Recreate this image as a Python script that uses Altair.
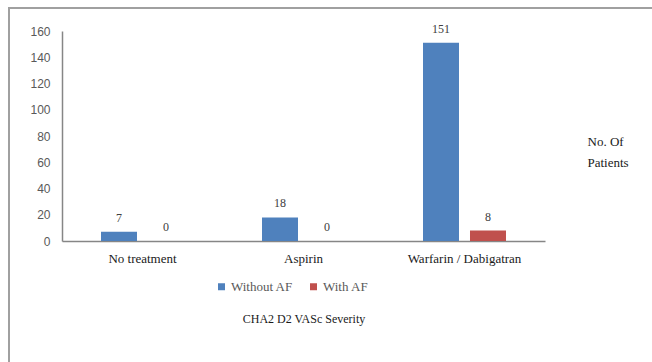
import altair as alt
import pandas as pd

# Treatment groups and patient counts per AF status
treatments = ["No treatment", "Aspirin", "Warfarin / Dabigatran"]
groups = ["Without AF", "With AF"]
without_af = [7, 18, 151]
with_af = [0, 0, 8]
y_ticks = [0, 20, 40, 60, 80, 100, 120, 140, 160]

rows = []
for t, a, b in zip(treatments, without_af, with_af):
    rows.append({"treatment": t, "group": groups[0], "patients": a})
    rows.append({"treatment": t, "group": groups[1], "patients": b})
df = pd.DataFrame(rows)

W, H = 483, 210
SERIF = "'Times New Roman', 'Liberation Serif', serif"
SANS = "'Liberation Sans', Arial, sans-serif"

x_enc = alt.X(
    "treatment:N",
    sort=treatments,
    scale=alt.Scale(paddingInner=0, paddingOuter=0),
    axis=alt.Axis(
        title="CHA2 D2 VASc Severity",
        titleFont=SERIF,
        titleFontSize=12,
        titleFontWeight="normal",
        titleColor="#1a1a1a",
        titleY=77,
        titleBaseline="middle",
        labelAngle=0,
        labelFont=SERIF,
        labelFontSize=13,
        labelColor="#1a1a1a",
        labelPadding=11,
        ticks=False,
        domainColor="#868686",
        domainWidth=1.5,
    ),
)
y_enc = alt.Y(
    "patients:Q",
    scale=alt.Scale(domain=[0, 160], nice=False),
    axis=alt.Axis(
        values=y_ticks,
        tickCount=9,
        labelOverlap=False,
        labelBound=False,
        title=["No. Of", "Patients"],
        titleAngle=0,
        titleAlign="left",
        titleBaseline="alphabetic",
        titleX=525,
        titleY=114,
        titleLineHeight=21,
        titleFont=SERIF,
        titleFontSize=13,
        titleFontWeight="normal",
        titleColor="#1a1a1a",
        labelFont=SANS,
        labelFontSize=12,
        labelColor="#595959",
        labelPadding=12,
        ticks=False,
        grid=False,
        domainColor="#868686",
        domainWidth=1.5,
    ),
)
offset_enc = alt.XOffset(
    "group:N",
    sort=groups,
    scale=alt.Scale(paddingInner=0.234, paddingOuter=0.83),
)

base = alt.Chart(df).encode(x=x_enc, xOffset=offset_enc, y=y_enc)

bars = base.mark_bar().encode(
    color=alt.Color(
        "group:N",
        sort=groups,
        scale=alt.Scale(domain=groups, range=["#4F81BD", "#C0504D"]),
        legend=alt.Legend(
            title=None,
            orient="none",
            direction="horizontal",
            legendX=153,
            legendY=249,
            padding=0,
            symbolType="square",
            symbolSize=49,
            symbolStrokeWidth=0,
            labelFont=SERIF,
            labelFontSize=13,
            labelColor="#595959",
            labelOffset=3,
            columnPadding=14,
        ),
    ),
)

labels = base.mark_text(
    font=SERIF, fontSize=12, color="#404040", baseline="middle", dy=-14
).encode(text="patients:Q")

# Outer frame around the figure
frame = alt.Chart(pd.DataFrame({"f": [0]})).mark_rect(
    fill=None, stroke="#a0a0a0", strokeWidth=2
).encode(
    x=alt.value(-53), x2=alt.value(W + 200),
    y=alt.value(-23), y2=alt.value(H + 200),
)

chart = (
    alt.layer(bars, labels, frame)
    .properties(
        width=W,
        height=H,
        autosize=alt.AutoSizeParams(type="none"),
        padding={"left": 62, "top": 31, "right": 652 - 62 - W, "bottom": 362 - 31 - H},
        background="white",
    )
    .configure_view(stroke=None)
)

chart.save("out.html", embed_options={"renderer": "svg", "actions": False})
